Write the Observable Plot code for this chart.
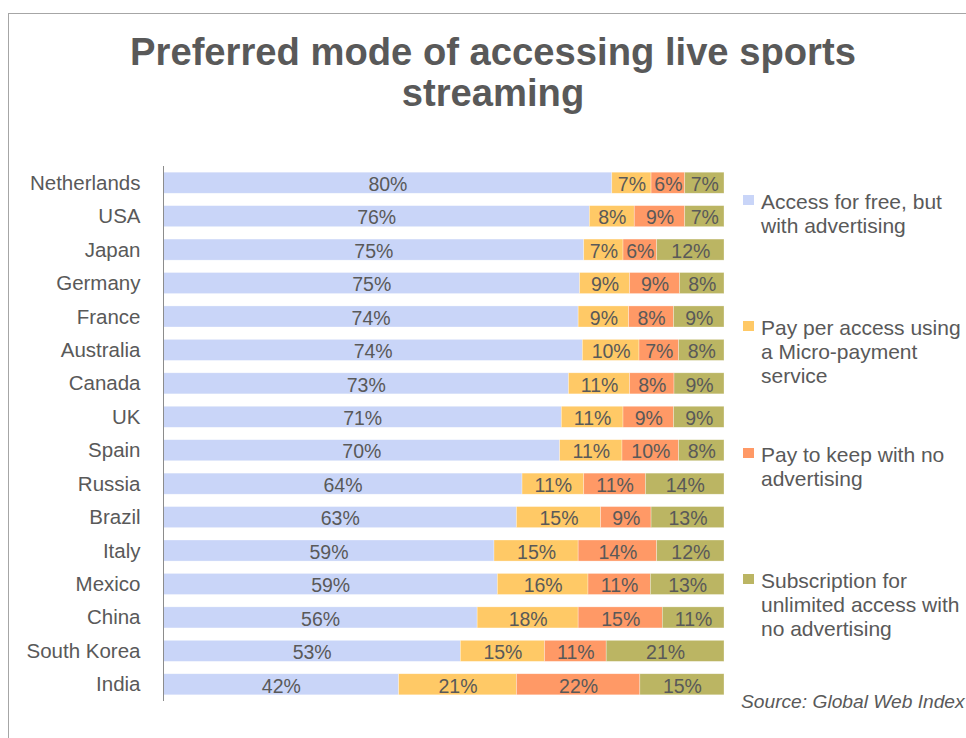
<!DOCTYPE html>
<html>
<head>
<meta charset="utf-8">
<script src="https://cdn.jsdelivr.net/npm/d3@7"></script>
<script src="https://cdn.jsdelivr.net/npm/@observablehq/plot@0.6"></script>
<style>
  html, body { margin: 0; padding: 0; background: #fff; overflow: hidden; }
  body { width: 966px; height: 738px; position: relative; font-family: "Liberation Sans", Arial, sans-serif; color: #595959; }
  #frame { position: absolute; left: 8px; top: 13px; width: 1000px; height: 1000px; border-left: 1px solid #a6a6a6; border-top: 1px solid #a6a6a6; }
  #title { position: absolute; left: 0; top: 31.3px; width: 986px; text-align: center; font-weight: bold; font-size: 38.2px; line-height: 41px; color: #595959; white-space: nowrap; }
  #chart { position: absolute; left: 0; top: 0; }
  .lg { position: absolute; left: 761px; font-size: 21px; line-height: 24px; white-space: nowrap; color: #595959; }
  .sw { position: absolute; left: 743px; width: 11px; height: 10px; }
  #source { position: absolute; left: 741px; top: 692px; font-size: 19.2px; line-height: 19px; font-style: italic; white-space: nowrap; color: #595959; }
</style>
</head>
<body>
<div id="frame"></div>
<div id="title">Preferred mode of accessing live sports<br>streaming</div>
<div id="chart"></div>
<div id="legend"></div>
<div id="source">Source: Global Web Index</div>
<script>
const countries = ["Netherlands","USA","Japan","Germany","France","Australia","Canada","UK","Spain","Russia","Brazil","Italy","Mexico","China","South Korea","India"];
const seriesNames = ["Access for free, but with advertising","Pay per access using a Micro-payment service","Pay to keep with no advertising","Subscription for unlimited access with no advertising"];
const legendLines = [["Access for free, but","with advertising"],["Pay per access using","a Micro-payment","service"],["Pay to keep with  no","advertising"],["Subscription for","unlimited access with","no advertising"]];
const free         = [80,76,75,75,74,74,73,71,70,64,63,59,59,56,53,42];
const perAccess    = [7,8,7,9,9,10,11,11,11,11,15,15,16,18,15,21];
const keepNoAds    = [6,9,6,9,8,7,8,9,10,11,9,14,11,15,11,22];
const subscription = [7,7,12,8,9,8,9,9,8,14,13,12,13,11,21,15];
const colors = ["#c9d5f8","#ffc966","#ff9966","#bbb563"];

const seriesValues = [free, perAccess, keepNoAds, subscription];
const rows = [];
countries.forEach((c, i) => {
  seriesValues.forEach((vals, s) => {
    rows.push({country: c, series: seriesNames[s], value: vals[i]});
  });
});

const chart = Plot.plot({
  width: 740,
  height: 738,
  marginLeft: 163,
  marginRight: 16,
  marginTop: 166,
  marginBottom: 37,
  style: {fontFamily: '"Liberation Sans", Arial, sans-serif', background: "transparent", overflow: "visible"},
  x: {axis: null, domain: [0, 1]},
  y: {domain: countries, paddingInner: 0.37, paddingOuter: 0.185, round: false, label: null},
  color: {domain: seriesNames, range: colors},
  marks: [
    Plot.barX(rows, Plot.stackX({x: "value", y: "country", fill: "series", offset: "normalize", order: null, stroke: "#ffffff", strokeOpacity: 0.5, strokeWidth: 0.6})),
    Plot.text(rows, Plot.stackX({x: "value", y: "country", z: "series", offset: "normalize", order: null, text: d => d.value + "%", fontSize: 19.5, fill: "#595959", dy: 1.5})),
    Plot.ruleX([0], {stroke: "#8c8c8c", strokeWidth: 1}),
    Plot.axisY({tickSize: 0, tickPadding: 23, fontSize: 20.5, fill: "#595959", label: null})
  ]
});
document.getElementById("chart").appendChild(chart);

const legendTops = [190, 316, 443.4, 569];
const legend = document.getElementById("legend");
legendLines.forEach((lines, i) => {
  const sw = document.createElement("div");
  sw.className = "sw";
  sw.style.top = (legendTops[i] + 5) + "px";
  sw.style.background = colors[i];
  legend.appendChild(sw);
  const t = document.createElement("div");
  t.className = "lg";
  t.style.top = legendTops[i] + "px";
  t.innerHTML = lines.join("<br>");
  legend.appendChild(t);
});
</script>
</body>
</html>
